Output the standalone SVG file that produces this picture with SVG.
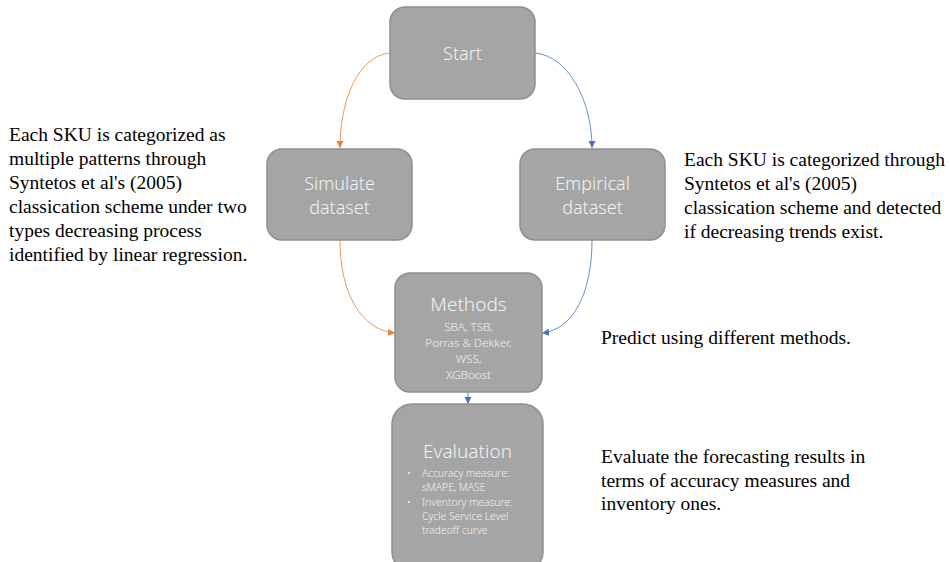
<svg xmlns="http://www.w3.org/2000/svg" width="950" height="562" viewBox="0 0 950 562">
<defs>
<style>
.box{fill:#a5a5a5;stroke:#8f8f8f;stroke-width:1.5}
.t{font-family:"Noto Sans","Open Sans",sans-serif;font-weight:300;fill:#f2f2f2;text-anchor:middle}
.big{font-size:18px}
.sm{font-size:11.6px}
.bl{font-size:10.3px;text-anchor:start}
.note{font-family:"Liberation Serif","Times New Roman",serif;font-size:19.5px;fill:#000}
.or{fill:none;stroke:#ED7D31;stroke-width:1;stroke-opacity:0.8}
.bu{fill:none;stroke:#4472C4;stroke-width:1;stroke-opacity:0.8}
</style>
<marker id="ao" viewBox="0 0 10 10" refX="10" refY="5" markerWidth="7" markerHeight="7" markerUnits="userSpaceOnUse" orient="auto"><path d="M0,0L10,5L0,10z" fill="#ED7D31"/></marker>
<marker id="ab" viewBox="0 0 10 10" refX="10" refY="5" markerWidth="7" markerHeight="7" markerUnits="userSpaceOnUse" orient="auto"><path d="M0,0L10,5L0,10z" fill="#4472C4"/></marker>
</defs>
<rect width="950" height="562" fill="#fff"/>
<g id="connectors">
<path class="or" d="M390,53 C358,56 340,100 340,148" marker-end="url(#ao)"/>
<path class="bu" d="M535,53 C568,56 592,100 592,148" marker-end="url(#ab)"/>
<path class="or" d="M340,240 C340,295 362,330 395,333" marker-end="url(#ao)"/>
<path class="bu" d="M592,240 C592,295 572,330 542,333" marker-end="url(#ab)"/>
<path class="bu" d="M468,392 L468,404" marker-end="url(#ab)"/>
</g>
<g id="start">
<rect class="box" x="390" y="7" width="145" height="92" rx="15"/>
<text class="t big" x="462.5" y="60">Start</text>
</g>
<g id="simulate">
<rect class="box" x="267" y="149" width="145" height="91" rx="15"/>
<text class="t big" x="339.5" y="190">Simulate</text>
<text class="t big" x="339.5" y="214">dataset</text>
</g>
<g id="empirical">
<rect class="box" x="520" y="149" width="145" height="91" rx="15"/>
<text class="t big" x="592.5" y="190">Empirical</text>
<text class="t big" x="592.5" y="214">dataset</text>
</g>
<g id="methods">
<rect class="box" x="395" y="273" width="147" height="119" rx="15"/>
<text class="t" style="font-size:19px" x="468.5" y="311">Methods</text>
<text class="t sm" x="468.5" y="331">SBA, TSB,</text>
<text class="t sm" x="468.5" y="347">Porras &amp; Dekker,</text>
<text class="t sm" x="468.5" y="363">WSS,</text>
<text class="t sm" x="468.5" y="379">XGBoost</text>
</g>
<g id="evaluation">
<rect class="box" x="392" y="404" width="151" height="168" rx="20"/>
<text class="t" style="font-size:19px" x="467.5" y="458">Evaluation</text>
<text class="t bl" x="407" y="477">•</text>
<text class="t bl" x="422" y="477">Accuracy measure:</text>
<text class="t bl" x="422" y="491">sMAPE, MASE</text>
<text class="t bl" x="407" y="506">•</text>
<text class="t bl" x="422" y="506">Inventory measure:</text>
<text class="t bl" x="422" y="520">Cycle Service Level</text>
<text class="t bl" x="422" y="534">tradeoff curve</text>
</g>
<g id="note-left">
<text class="note" x="9" y="141">Each SKU is categorized as</text>
<text class="note" x="9" y="165">multiple patterns through</text>
<text class="note" x="9" y="189">Syntetos et al's (2005)</text>
<text class="note" x="9" y="213">classication scheme under two</text>
<text class="note" x="9" y="237">types decreasing process</text>
<text class="note" x="9" y="261">identified by linear regression.</text>
</g>
<g id="note-right">
<text class="note" x="684" y="166">Each SKU is categorized through</text>
<text class="note" x="684" y="190">Syntetos et al's (2005)</text>
<text class="note" x="684" y="214">classication scheme and detected</text>
<text class="note" x="684" y="238">if decreasing trends exist.</text>
</g>
<g id="note-methods">
<text class="note" x="601" y="344">Predict using different methods.</text>
</g>
<g id="note-eval">
<text class="note" x="601" y="463">Evaluate the forecasting results in</text>
<text class="note" x="601" y="487">terms of accuracy measures and</text>
<text class="note" x="601" y="510">inventory ones.</text>
</g>
</svg>
